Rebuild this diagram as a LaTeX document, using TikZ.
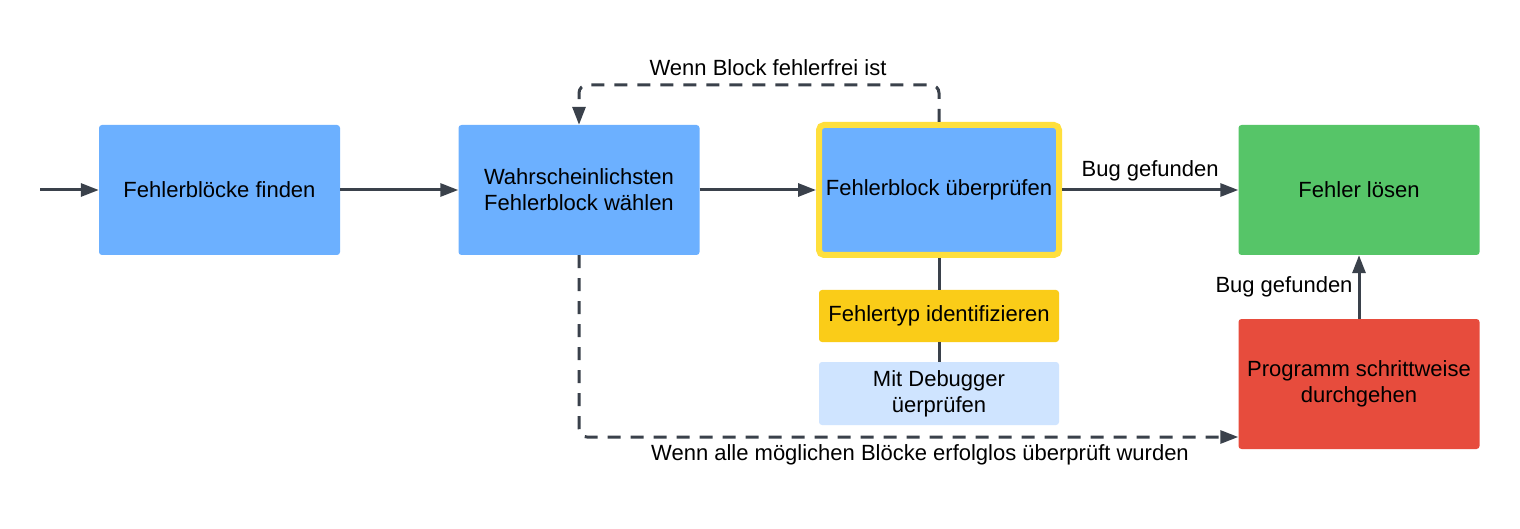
\documentclass[tikz,border=0pt]{standalone}
\usepackage{fontspec}
\setmainfont{Liberation Sans}
\usetikzlibrary{arrows.meta,calc}
\definecolor{boxblue}{HTML}{6CB0FF}
\definecolor{hlyellow}{HTML}{FFDF3C}
\definecolor{typeyellow}{HTML}{FACC18}
\definecolor{lightblue}{HTML}{CFE4FF}
\definecolor{okgreen}{HTML}{56C568}
\definecolor{errred}{HTML}{E74C3D}
\definecolor{linecol}{HTML}{3A414B}
\tikzset{
  box/.style={rectangle, rounded corners=3pt, minimum width=241pt, minimum height=130pt, inner sep=2pt, align=center, font=\fontsize{22}{26}\selectfont, text=black},
  conn/.style={draw=linecol, line width=3pt},
  arr/.style={conn, -{Triangle[length=18pt,width=13pt]}},
  dasharr/.style={arr, dash pattern=on 13pt off 10pt, rounded corners=8pt},
  lbl/.style={font=\fontsize{22}{26}\selectfont, text=black, inner sep=0pt}
}
\begin{document}
\begin{tikzpicture}[x=1pt,y=-1pt]
\useasboundingbox[fill=white] (0,0) rectangle (1520,529);
\node[box, fill=boxblue] (b1) at (219.5,190) {Fehlerblöcke finden};
\node[box, fill=boxblue] (b2) at (579,190) {Wahrscheinlichsten\\Fehlerblock wählen};
\node[box, fill=boxblue, draw=hlyellow, line width=6pt, minimum width=240pt, minimum height=130pt, rounded corners=5pt] (b3) at (939,190) {Fehlerblock überprüfen};
\node[box, fill=okgreen] (b4) at (1359,190) {Fehler lösen};
\node[box, fill=errred] (b5) at (1359,384) {Programm schrittweise\\durchgehen};
\node[box, fill=typeyellow, minimum width=240pt, minimum height=52pt] (t1) at (939,316) {Fehlertyp identifizieren};
\node[box, fill=lightblue, minimum width=240pt, minimum height=63pt] (t2) at (939,393.5) {Mit Debugger\\üerprüfen};
\coordinate (in) at (40,190);
\draw[arr] (in) -- (b1);
\draw[arr] (b1) -- (b2);
\draw[arr] (b2) -- (b3);
\draw[arr] (b3) -- node[lbl, above=7pt] (l1) {Bug gefunden} (b4);
\draw[arr] (b5) -- node[lbl, left=5pt] (l2) {Bug gefunden} (b4);
\draw[conn] (b3) -- (t1);
\draw[conn] (t1) -- (t2);
\draw[dasharr] (b3.north) -- (939,85) -- (579,85) -- (b2.north);
\draw[dasharr] (b2.south) -- (579,437) -- (b5.west |- 0,437);
\node[lbl] (l3) at (768,68) {Wenn Block fehlerfrei ist};
\node[lbl] (l4) at (920,455) {Wenn alle möglichen Blöcke erfolglos überprüft wurden};
\end{tikzpicture}
\end{document}
